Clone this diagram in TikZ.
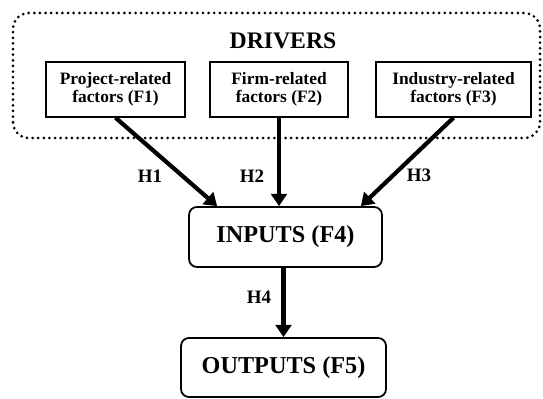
\documentclass[tikz,border=0pt]{standalone}
\usepackage{fontspec}
\setmainfont{Liberation Serif}
\usetikzlibrary{arrows.meta,positioning,calc}

\tikzset{
  factor/.style={draw, line width=0.8pt, align=center, inner sep=1pt,
    font=\fontsize{9.9}{10.6}\selectfont\bfseries, minimum height=1.1cm},
  stage/.style={draw, line width=1pt, rounded corners=4.5pt,
    font=\fontsize{13.8}{16}\selectfont\bfseries, minimum height=1.2cm},
  hyp/.style={font=\fontsize{10.8}{12}\selectfont\bfseries},
  link/.style={line width=2.4pt, -{Triangle[length=7pt,width=9pt]}},
}

\begin{document}
\begin{tikzpicture}[x=0.02cm, y=0.02cm]
    \useasboundingbox (0,0) rectangle (543,398);

    % Drivers group
    \draw[line width=1.7pt, line cap=round, dash pattern=on 0pt off 3.2pt,
      rounded corners=9pt] (13,260) rectangle (540,385);
    \node[font=\fontsize{13.5}{16}\selectfont\bfseries] (drivers) at (283,357) {DRIVERS};

    % Factor boxes
    \node[factor, minimum width=2.78cm] (f1) at (115.5,308.5) {Project-related\\factors (F1)};
    \node[factor, minimum width=2.76cm] (f2) at (279,308.5) {Firm-related\\factors (F2)};
    \node[factor, minimum width=3.1cm] (f3) at (453.5,308.5) {Industry-related\\factors (F3)};

    % Inputs and outputs
    \node[stage, minimum width=3.86cm] (inputs) at (285.5,161) {INPUTS (F4)};
    \node[stage, minimum width=4.1cm, minimum height=1.18cm] (outputs) at (283.5,30.5) {OUTPUTS (F5)};

    % Hypotheses
    \draw[link] (f1.south) -- ($(inputs.north west)+(29,0)$);
    \draw[link] (f2.south) -- ($(inputs.north)+(-6.5,0)$);
    \draw[link] (f3.south) -- ($(inputs.north east)+(-22,0)$);
    \draw[link] ($(inputs.south)+(-2,0)$) -- (outputs.north);

    \node[hyp] (h1) at (150,222) {H1};
    \node[hyp] (h2) at (252,222) {H2};
    \node[hyp] (h3) at (419,223) {H3};
    \node[hyp] (h4) at (259,101) {H4};
\end{tikzpicture}
\end{document}
